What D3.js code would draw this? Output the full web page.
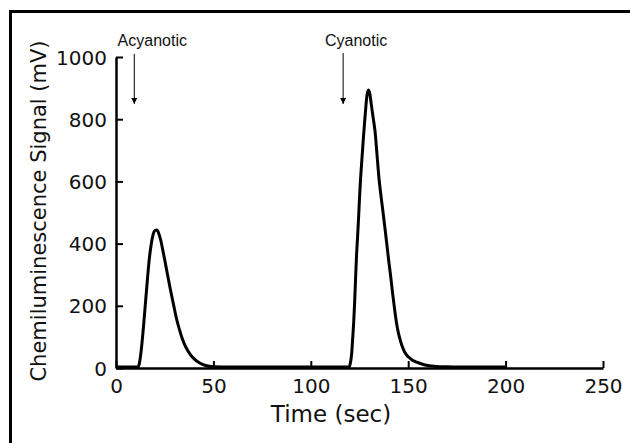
<!DOCTYPE html>
<html>
<head>
<meta charset="utf-8">
<script src="https://cdn.jsdelivr.net/npm/d3@7"></script>
<style>
  html, body { margin: 0; padding: 0; background: #fff; }
  svg { display: block; }
</style>
</head>
<body>
<div id="chart"></div>
<script>
// trace: [time (sec), signal (mV)]
const signal = [
  [0, 3], [5, 3], [10, 3], [11.3, 3],
  [12, 15], [13, 60], [14, 125], [15, 200], [16, 275], [17, 345], [18, 395],
  [19, 428], [20, 442], [21, 444], [22, 432], [23, 410], [24, 380], [25, 348],
  [26, 315], [27, 282], [28, 250], [29.5, 205], [31, 160], [32.5, 125],
  [34, 95], [36, 65], [38, 45], [40, 30], [43, 16], [46, 8], [50, 4],
  [60, 3], [80, 3], [100, 3], [119.7, 3],
  [120.3, 15], [121, 48], [121.5, 95], [122, 145], [122.5, 210], [123, 290],
  [123.5, 365], [124, 420], [124.5, 480], [125, 545], [125.5, 604], [126, 650],
  [127, 740], [128, 820], [128.8, 875], [129.5, 894], [130.2, 885], [131, 850],
  [132, 805], [133, 760], [134, 685], [135, 610], [136, 555], [137, 505],
  [138, 453], [139, 400], [140, 345], [141, 295], [142, 240], [143, 190],
  [144, 145], [145, 112], [146, 88], [147, 68], [148.3, 50], [150, 36],
  [152, 26], [154.3, 19], [157, 13], [160, 8], [164.5, 5], [170, 4],
  [180, 3], [200, 3]
];

const xTicks = [0, 50, 100, 150, 200, 250];
const yTicks = [0, 200, 400, 600, 800, 1000];

// injection markers: label, time, arrow from / to (mV)
const markers = [
  { label: "Acyanotic", t: 9.4, from: 1010, to: 849 },
  { label: "Cyanotic", t: 116.6, from: 1013, to: 849 }
];

const width = 630, height = 443;

const svg = d3.select("#chart")
  .append("svg")
  .attr("width", width)
  .attr("height", height);

// outer frame, runs off the right and bottom edges
svg.append("rect")
  .attr("x", 10.5).attr("y", 11.5)
  .attr("width", 640).attr("height", 460)
  .attr("fill", "none")
  .attr("stroke", "#000")
  .attr("stroke-width", 3);

const x = d3.scaleLinear().domain([0, 250]).range([116, 603]);
const y = d3.scaleLinear().domain([0, 1000]).range([368, 57]);

const xAxis = svg.append("g")
  .attr("transform", `translate(0,${y(0)})`)
  .call(d3.axisBottom(x).tickValues(xTicks).tickFormat(d3.format("d"))
    .tickSizeInner(-7).tickSizeOuter(0).tickPadding(11));

const yAxis = svg.append("g")
  .attr("transform", `translate(${x(0)},0)`)
  .call(d3.axisLeft(y).tickValues(yTicks).tickFormat(d3.format("d"))
    .tickSizeInner(-7).tickSizeOuter(0).tickPadding(9));

[xAxis, yAxis].forEach(g => {
  g.select(".domain").attr("stroke", "#000").attr("stroke-width", 2.5);
  g.selectAll(".tick line").attr("stroke", "#000").attr("stroke-width", 2);
  g.selectAll(".tick text")
    .attr("fill", "#111")
    .attr("font-family", "DejaVu Sans, Verdana, sans-serif")
    .attr("font-size", 20);
});
yAxis.selectAll(".tick text").attr("dy", "0.35em");

svg.append("text")
  .attr("x", 331).attr("y", 422)
  .attr("text-anchor", "middle")
  .attr("font-family", "DejaVu Sans, Verdana, sans-serif")
  .attr("font-size", 23)
  .attr("fill", "#111")
  .text("Time (sec)");

svg.append("text")
  .attr("transform", "translate(46,211) rotate(-90)")
  .attr("text-anchor", "middle")
  .attr("font-family", "DejaVu Sans, Verdana, sans-serif")
  .attr("font-size", 21)
  .attr("fill", "#111")
  .text("Chemiluminescence Signal (mV)");

const line = d3.line()
  .x(d => x(d[0]))
  .y(d => y(d[1]))
  .curve(d3.curveMonotoneX);

svg.append("path")
  .datum(signal)
  .attr("fill", "none")
  .attr("stroke", "#000")
  .attr("stroke-width", 3)
  .attr("stroke-linejoin", "round")
  .attr("d", line);

// arrows + labels
svg.append("defs").append("marker")
  .attr("id", "head")
  .attr("viewBox", "0 0 10 10")
  .attr("refX", 10).attr("refY", 5)
  .attr("markerWidth", 6).attr("markerHeight", 6)
  .attr("markerUnits", "userSpaceOnUse")
  .attr("orient", "auto")
  .append("path")
  .attr("d", "M0,0L10,5L0,10Z")
  .attr("fill", "#000");

const mk = svg.append("g").selectAll("g")
  .data(markers)
  .join("g");

mk.append("line")
  .attr("x1", d => x(d.t)).attr("x2", d => x(d.t))
  .attr("y1", d => y(d.from)).attr("y2", d => y(d.to))
  .attr("stroke", "#000")
  .attr("stroke-width", 1)
  .attr("marker-end", "url(#head)");

mk.append("text")
  .attr("x", d => x(d.t) + (d.label === "Acyanotic" ? 18 : 13))
  .attr("y", 46)
  .attr("text-anchor", "middle")
  .attr("font-family", "Liberation Sans, Arial, sans-serif")
  .attr("font-size", 16)
  .attr("fill", "#111")
  .text(d => d.label);
</script>
</body>
</html>
